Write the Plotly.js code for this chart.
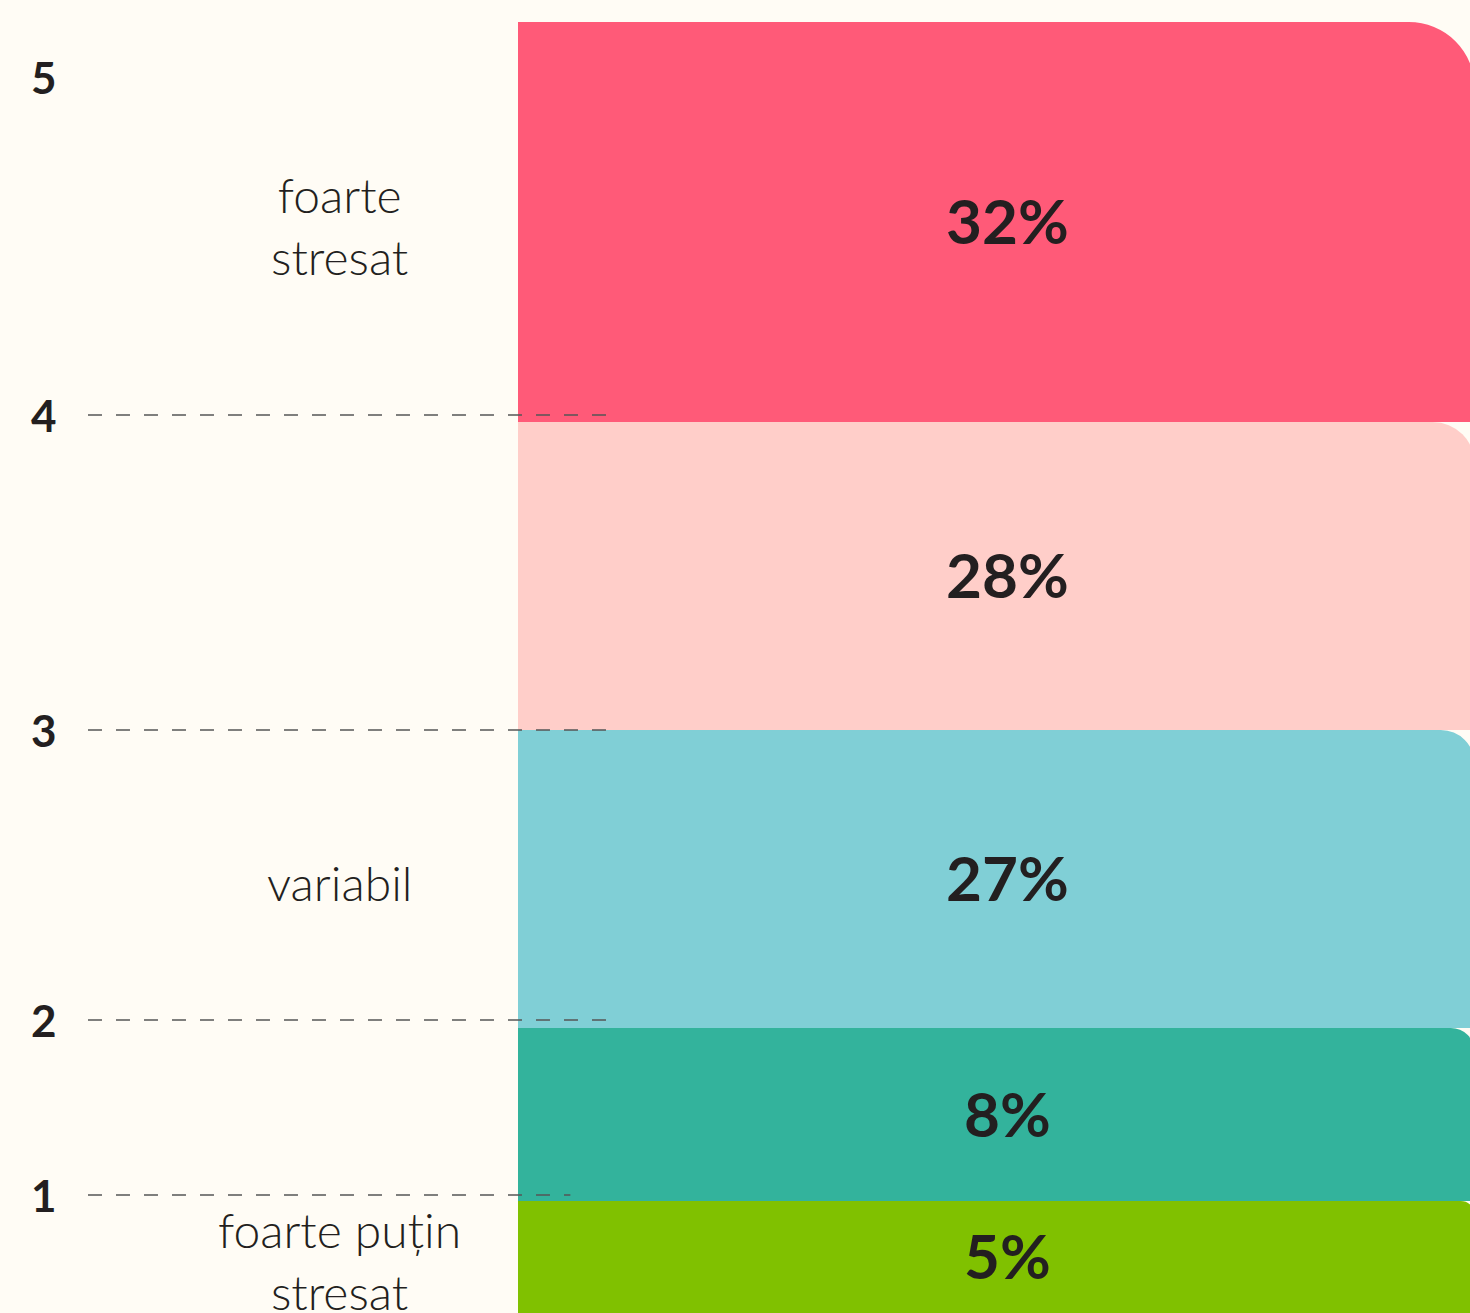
<!DOCTYPE html>
<html>
<head>
<meta charset="utf-8">
<script src="https://cdn.plot.ly/plotly-3.0.1.min.js"></script>
<style>
  html, body { margin: 0; padding: 0; background: #FFFCF5; }
  #chart { width: 1470px; height: 1313px; }
</style>
</head>
<body>
<div id="chart"></div>
<script>
// ---- data (bottom band first) ----
const percents    = [5, 8, 27, 28, 32];
const bandHeight  = [1.12, 1.73, 2.98, 3.08, 4.00];   // visual band heights
const bandColors  = ['#80C100', '#33B39C', '#80CFD6', '#FFCEC9', '#FF5A78'];
const bandLabels  = ['foarte puțin<br>stresat', '', 'variabil', '', 'foarte<br>stresat'];
const cornerRadii = [14, 24, 34, 42, 66];
const levelLabels = ['1', '2', '3', '4', '5'];
const levelPos    = [1.18, 2.93, 5.83, 8.98, 12.36];
const levelDashed = [true, true, true, true, false];
const dashEnd     = [0.055, 0.0945, 0.0945, 0.0945, 0.0945];
const totalSpan   = 13.13;

// ---- build ----
const bases = [];
let acc = 0;
bandHeight.forEach(h => { bases.push(acc); acc += h; });
const toPaper = v => v / totalSpan;

const layout = {
  width: 1470, height: 1313,
  margin: { l: 518, r: 0, t: 0, b: 0, pad: 0 },
  paper_bgcolor: '#FFFCF5', plot_bgcolor: '#FFFCF5',
  barmode: 'overlay',
  xaxis: { range: [0, 1], visible: false, fixedrange: true },
  showlegend: false
};

const traces = percents.map((p, i) => {
  const axName = i === 0 ? 'yaxis' : 'yaxis' + (i + 1);
  layout[axName] = {
    domain: [toPaper(bases[i]), toPaper(bases[i] + bandHeight[i])],
    range: [0, bandHeight[i]], visible: false, fixedrange: true
  };
  if (i > 0) layout[axName].anchor = 'x';
  return {
    type: 'bar',
    x: [0],
    y: [bandHeight[i]],
    yaxis: i === 0 ? 'y' : 'y' + (i + 1),
    width: 2.01,
    marker: { color: bandColors[i], line: { width: 0 }, cornerradius: cornerRadii[i] },
    hoverinfo: 'skip',
    showlegend: false
  };
});

const annotations = [];
percents.forEach((p, i) => {
  const yc = bases[i] + bandHeight[i] / 2;
  annotations.push({
    xref: 'paper', yref: 'paper', x: 0.514, y: toPaper(yc + 0.02),
    text: p + '%', showarrow: false, xanchor: 'center', yanchor: 'middle',
    font: { family: 'Lato, sans-serif', size: 62, color: '#231F20', weight: 700 }
  });
  if (bandLabels[i]) {
    annotations.push({
      xref: 'paper', yref: 'paper', x: -0.187, y: toPaper(yc - 0.03),
      text: bandLabels[i], showarrow: false, xanchor: 'center', yanchor: 'middle', align: 'center',
      font: { family: 'Lato, sans-serif', size: 48, color: '#231F20', weight: 300 }
    });
  }
});
levelLabels.forEach((t, i) => {
  annotations.push({
    xref: 'paper', yref: 'paper', x: -0.498, y: toPaper(levelPos[i]),
    text: '<b>' + t + '</b>', showarrow: false, xanchor: 'center', yanchor: 'middle',
    font: { family: 'Lato, sans-serif', size: 44, color: '#231F20' }
  });
});

const shapes = [];
levelPos.forEach((y, i) => {
  if (!levelDashed[i]) return;
  shapes.push({
    type: 'line', xref: 'paper', yref: 'paper', x0: -0.4517, x1: dashEnd[i],
    y0: toPaper(y), y1: toPaper(y),
    layer: 'above', line: { color: '#555555', width: 1.5, dash: '14px,14px' }
  });
});

layout.annotations = annotations;
layout.shapes = shapes;

Plotly.newPlot('chart', traces, layout, { displayModeBar: false, staticPlot: true });
</script>
</body>
</html>
